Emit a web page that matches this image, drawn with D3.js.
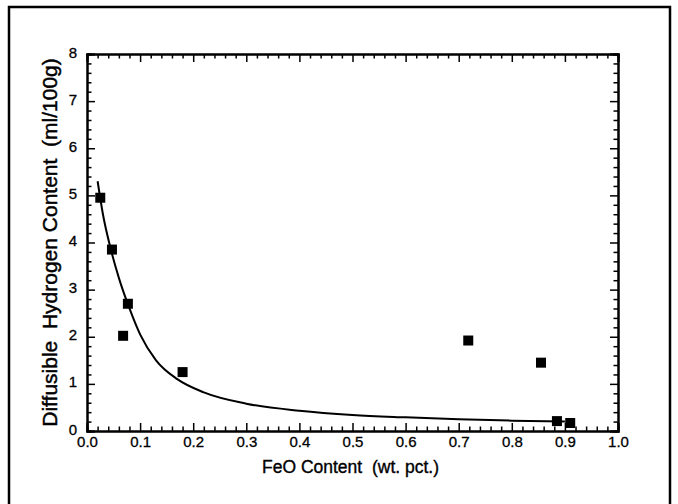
<!DOCTYPE html>
<html><head><meta charset="utf-8">
<script src="https://cdn.jsdelivr.net/npm/d3@7"></script>
<style>
html,body{margin:0;padding:0;background:#fff;}
svg{display:block;}
text{font-family:"Liberation Sans",Arial,sans-serif;fill:#000;}
</style></head>
<body>
<svg id="chart" width="678" height="504"></svg>
<script>
// ---- data ----
const feo = [0.025, 0.047, 0.077, 0.068, 0.18, 0.718, 0.855, 0.885, 0.91];
const hydrogen = [4.95, 3.85, 2.7, 2.02, 1.25, 1.92, 1.45, 0.21, 0.17];
const curveX = [0.02, 0.03, 0.045, 0.06, 0.08, 0.1, 0.13, 0.17, 0.22, 0.3, 0.4, 0.5, 0.6, 0.7, 0.8, 0.9];
const curveY = [5.3, 4.6, 3.85, 3.25, 2.6, 2.05, 1.5, 1.1, 0.82, 0.58, 0.43, 0.34, 0.29, 0.25, 0.22, 0.2];
const xTickLabels = ["0.0","0.1","0.2","0.3","0.4","0.5","0.6","0.7","0.8","0.9","1.0"];
const yTickLabels = ["0","1","2","3","4","5","6","7","8"];
const xTitle = "FeO Content  (wt. pct.)";
const yTitle = "Diffusible  Hydrogen Content  (ml/100g)";

// ---- layout ----
const svg = d3.select("#chart");
const L = 87, R = 618, T = 54, B = 431;
const x = d3.scaleLinear().domain([0, 1]).range([L, R]);
const y = d3.scaleLinear().domain([0, 8]).range([B, T]);

// outer frame
svg.append("rect").attr("x", 9).attr("y", 7).attr("width", 661).attr("height", 505)
  .attr("fill", "none").attr("stroke", "#000").attr("stroke-width", 2.5);

const xMajor = d3.range(0, 11).map(i => i / 10);
const xMinor = d3.range(0, 51).map(i => i / 50).filter((d, i) => i % 5 !== 0);
const yMajor = d3.range(0, 9);
const yMinor = d3.range(0, 41).map(i => i / 5).filter((d, i) => i % 5 !== 0);

const g = svg.append("g");
function drawAxis(axis, transform) {
  const a = g.append("g").attr("transform", transform).call(axis);
  a.selectAll("path.domain").attr("stroke", "#000").attr("stroke-width", 2);
  a.selectAll(".tick line").attr("stroke", "#000").attr("stroke-width", 1.5);
  return a;
}
function styleLabels(sel) {
  sel.selectAll("text").attr("font-size", 15).attr("font-family", "Liberation Sans, Arial, sans-serif")
    .attr("fill", "#000").attr("stroke", "#000").attr("stroke-width", 0.3);
}
// bottom axis major (with labels)
const bx = drawAxis(d3.axisBottom(x).tickValues(xMajor).tickSize(-8).tickPadding(5)
  .tickFormat((d, i) => xTickLabels[i]), `translate(0,${B})`);
styleLabels(bx);
drawAxis(d3.axisBottom(x).tickValues(xMinor).tickSize(-4.5).tickFormat(""), `translate(0,${B})`);
// top axis
drawAxis(d3.axisTop(x).tickValues(xMajor).tickSize(-8).tickFormat(""), `translate(0,${T})`);
drawAxis(d3.axisTop(x).tickValues(xMinor).tickSize(-4.5).tickFormat(""), `translate(0,${T})`);
// left axis
const ly = drawAxis(d3.axisLeft(y).tickValues(yMajor).tickSize(-8).tickPadding(10)
  .tickFormat((d, i) => yTickLabels[i]), `translate(${L},0)`);
styleLabels(ly);
ly.selectAll("text").attr("dy", "0.2em");
drawAxis(d3.axisLeft(y).tickValues(yMinor).tickSize(-4.5).tickFormat(""), `translate(${L},0)`);
// right axis
drawAxis(d3.axisRight(y).tickValues(yMajor).tickSize(-8).tickFormat(""), `translate(${R},0)`);
drawAxis(d3.axisRight(y).tickValues(yMinor).tickSize(-4.5).tickFormat(""), `translate(${R},0)`);

// fitted curve
const curvePts = curveX.map((d, i) => [d, curveY[i]]);
svg.append("path").datum(curvePts)
  .attr("d", d3.line().x(d => x(d[0])).y(d => y(d[1])).curve(d3.curveMonotoneX))
  .attr("fill", "none").attr("stroke", "#000").attr("stroke-width", 2);

// squares
const S = 10;
svg.selectAll("rect.pt").data(feo.map((d, i) => [d, hydrogen[i]])).enter()
  .append("rect").attr("class", "pt")
  .attr("x", d => x(d[0]) - S / 2).attr("y", d => y(d[1]) - S / 2)
  .attr("width", S).attr("height", S).attr("fill", "#000");

// titles
svg.append("text").attr("x", (L + R) / 2 - 2).attr("y", 473).attr("text-anchor", "middle")
  .attr("font-size", 17.5).attr("stroke", "#000").attr("stroke-width", 0.35)
  .style("white-space", "pre").text(xTitle);
svg.append("text").attr("transform", `translate(57,${(T + B) / 2}) rotate(-90)`)
  .attr("text-anchor", "middle").attr("font-size", 21).attr("stroke", "#000").attr("stroke-width", 0.45)
  .style("white-space", "pre").text(yTitle);
</script>
</body></html>
